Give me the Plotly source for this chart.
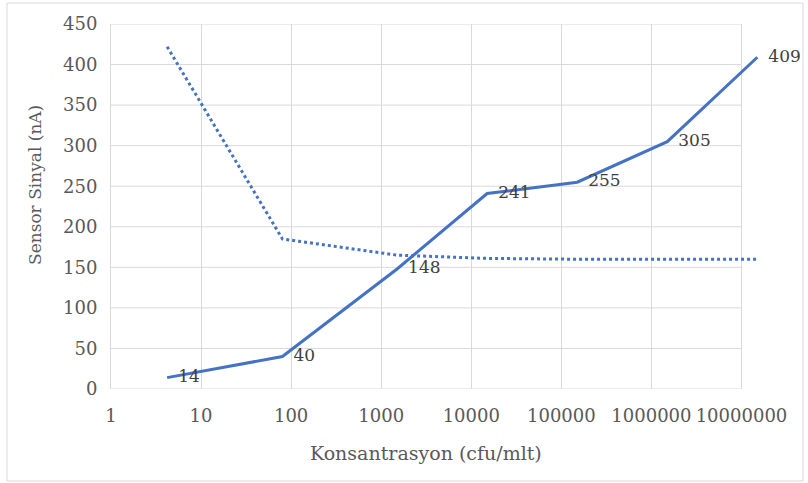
import plotly.graph_objects as go
import math

# Data
konsantrasyon = [4.2, 80, 1500, 15000, 150000, 1500000, 15000000]
sensor_sinyal = [14, 40, 148, 241, 255, 305, 409]
kontrol = [422, 185, 165, 161, 160, 160, 160]
x_tick_vals = [1, 10, 100, 1000, 10000, 100000, 1000000, 10000000]
x_tick_text = ["1", "10", "100", "1000", "10000", "100000", "1000000", "10000000"]
y_ticks = [0, 50, 100, 150, 200, 250, 300, 350, 400, 450]

BLUE = "#4472C4"
GRID = "#D9D9D9"
TICK = "#595959"
FONT = "DejaVu Serif"

XMAX = 7.25  # log10 range end (line extends past last grid line)
L, R, T, B = 111, 44, 24, 94
W, H = 808, 483
pw = W - L - R
ph = H - T - B

fig = go.Figure()

fig.add_trace(go.Scatter(
    x=konsantrasyon, y=kontrol, mode="lines",
    line=dict(color=BLUE, width=3, dash="dot"),
    showlegend=False, hoverinfo="skip"))

fig.add_trace(go.Scatter(
    x=konsantrasyon, y=sensor_sinyal, mode="lines+markers+text",
    line=dict(color=BLUE, width=3),
    marker=dict(size=16, color="rgba(0,0,0,0)"),
    text=[str(v) for v in sensor_sinyal], textposition="middle right",
    textfont=dict(family=FONT, size=17, color="#404040"),
    cliponaxis=False, showlegend=False))

shapes = []
grid_end = math.log10(x_tick_vals[-1]) / XMAX
for v in y_ticks:
    shapes.append(dict(type="line", xref="paper", yref="y", x0=0, x1=grid_end,
                       y0=v, y1=v, line=dict(color=GRID, width=1), layer="below"))

def px2x(p):
    return (p - L) / pw

def py2y(p):
    return (H - B - p) / ph

# chart border
shapes.append(dict(type="rect", xref="paper", yref="paper",
                   x0=px2x(7), x1=px2x(803), y0=py2y(481), y1=py2y(3),
                   line=dict(color="#D9D9D9", width=1), layer="below"))

fig.update_layout(
    width=W, height=H,
    margin=dict(l=L, r=R, t=T, b=B, autoexpand=False),
    paper_bgcolor="white", plot_bgcolor="white",
    font=dict(family=FONT, size=18, color=TICK),
    shapes=shapes,
    xaxis=dict(type="log", range=[0, XMAX], tickvals=x_tick_vals, ticktext=x_tick_text,
               showgrid=True, gridcolor=GRID, gridwidth=1, zeroline=False, showline=False,
               ticks="outside", ticklen=10, tickcolor="rgba(0,0,0,0)",
               tickfont=dict(family=FONT, size=18, color=TICK)),
    yaxis=dict(range=[0, 450], tickvals=y_ticks, showgrid=False, zeroline=False,
               showline=True, linecolor=GRID, linewidth=1,
               ticks="outside", ticklen=9, tickcolor="rgba(0,0,0,0)",
               tickfont=dict(family=FONT, size=18, color=TICK)),
    annotations=[
        dict(text="Konsantrasyon (cfu/mlt)", xref="x", yref="paper", x=3.5, y=py2y(453),
             showarrow=False, font=dict(family=FONT, size=19, color=TICK),
             xanchor="center", yanchor="middle"),
        dict(text="Sensor Sinyal (nA)", xref="paper", yref="paper", x=px2x(35), y=py2y(185),
             showarrow=False, textangle=-90, font=dict(family=FONT, size=17, color=TICK),
             xanchor="center", yanchor="middle"),
    ],
)

fig.write_html("out.html", config={"displayModeBar": False},
               post_script="document.body.style.margin='0';document.body.style.overflow='hidden';")
